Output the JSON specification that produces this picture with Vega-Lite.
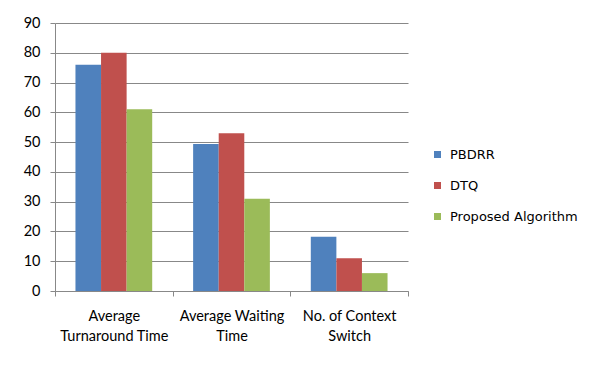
{
  "$schema": "https://vega.github.io/schema/vega-lite/v6.json",
  "width": 353,
  "height": 268,
  "autosize": {"type": "none"},
  "padding": {"left": 55, "top": 23, "right": 190, "bottom": 74},
  "background": "white",
  "data": {
    "values": [
      {"metric": "Average Turnaround Time", "algorithm": "PBDRR", "value": 76},
      {"metric": "Average Turnaround Time", "algorithm": "DTQ", "value": 80},
      {"metric": "Average Turnaround Time", "algorithm": "Proposed Algorithm", "value": 61},
      {"metric": "Average Waiting Time", "algorithm": "PBDRR", "value": 49.4},
      {"metric": "Average Waiting Time", "algorithm": "DTQ", "value": 53},
      {"metric": "Average Waiting Time", "algorithm": "Proposed Algorithm", "value": 31},
      {"metric": "No. of Context Switch", "algorithm": "PBDRR", "value": 18.2},
      {"metric": "No. of Context Switch", "algorithm": "DTQ", "value": 11},
      {"metric": "No. of Context Switch", "algorithm": "Proposed Algorithm", "value": 6}
    ]
  },
  "mark": {"type": "bar"},
  "encoding": {
    "x": {
      "field": "metric",
      "type": "nominal",
      "sort": ["Average Turnaround Time", "Average Waiting Time", "No. of Context Switch"],
      "scale": {"paddingInner": 0, "paddingOuter": 0},
      "axis": {
        "title": null,
        "labelAngle": 0,
        "tickBand": "extent",
        "tickSize": 5,
        "tickColor": "#888888",
        "domainColor": "#888888",
        "labelPadding": 13,
        "labelLineHeight": 20,
        "labelBaseline": "top",
        "labelExpr": "datum.extra ? '' : datum.label == 'Average Turnaround Time' ? ['Average', 'Turnaround Time'] : datum.label == 'Average Waiting Time' ? ['Average Waiting', 'Time'] : ['No. of Context', 'Switch']",
        "grid": false
      }
    },
    "xOffset": {
      "field": "algorithm",
      "type": "nominal",
      "sort": ["PBDRR", "DTQ", "Proposed Algorithm"],
      "scale": {"paddingInner": 0, "paddingOuter": 0.8}
    },
    "y": {
      "field": "value",
      "type": "quantitative",
      "scale": {"domain": [0, 90], "nice": false},
      "axis": {
        "title": null,
        "values": [0, 10, 20, 30, 40, 50, 60, 70, 80, 90],
        "tickSize": 5,
        "tickColor": "#888888",
        "domainColor": "#888888",
        "gridColor": "#888888",
        "labelPadding": 10
      }
    },
    "color": {
      "field": "algorithm",
      "type": "nominal",
      "sort": ["PBDRR", "DTQ", "Proposed Algorithm"],
      "scale": {
        "domain": ["PBDRR", "DTQ", "Proposed Algorithm"],
        "range": ["#4F81BD", "#C0504D", "#9BBB59"]
      },
      "legend": {
        "title": null,
        "orient": "none",
        "legendX": 376,
        "legendY": 125,
        "symbolType": "square",
        "symbolSize": 49,
        "symbolStrokeWidth": 0,
        "labelFont": "DejaVu Sans",
        "labelFontSize": 13,
        "labelColor": "#000000",
        "labelOffset": 6,
        "rowPadding": 17,
        "padding": 0
      }
    }
  },
  "config": {
    "view": {"stroke": null},
    "axis": {
      "labelFont": "Lato",
      "labelFontSize": 14.5,
      "labelColor": "#000000",
      "domainWidth": 1,
      "gridWidth": 1
    },
    "legend": {"labelFont": "DejaVu Sans"}
  }
}
